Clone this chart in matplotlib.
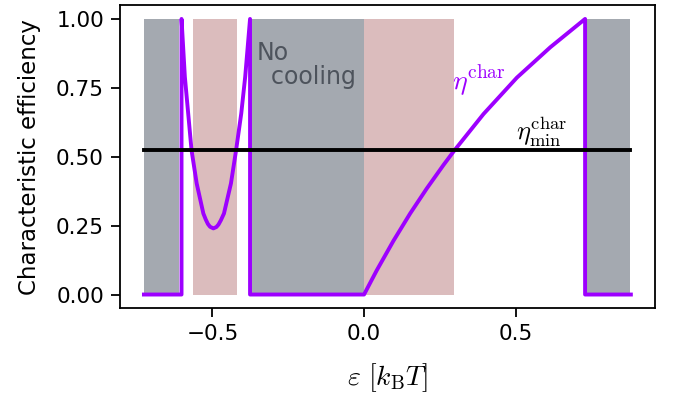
import matplotlib
matplotlib.use('Agg')
import matplotlib.pyplot as plt

plt.rcParams['mathtext.fontset'] = 'cm'
plt.rcParams['font.family'] = 'DejaVu Sans'

# characteristic efficiency
eps = [-0.726, -0.602, -0.602, -0.591, -0.580, -0.569, -0.552, -0.530, -0.522,
       -0.515, -0.508, -0.497, -0.487, -0.480, -0.472, -0.462, -0.439, -0.422,
       -0.405, -0.392, -0.376, -0.376,
       0.0, 0.042, 0.097, 0.152, 0.207, 0.262, 0.298, 0.394, 0.504, 0.614,
       0.729, 0.729, 0.88]
eta = [0.0, 0.0, 1.0, 0.790, 0.657, 0.524, 0.403, 0.294, 0.272,
       0.256, 0.246, 0.240, 0.245, 0.254, 0.270, 0.294, 0.403, 0.524,
       0.657, 0.790, 1.0, 0.0,
       0.0, 0.088, 0.195, 0.294, 0.385, 0.470, 0.523, 0.655, 0.787, 0.897,
       1.0, 0.0, 0.0]

eta_min = 0.523

# regions: no cooling (gray) and eta below eta_min (pink)
no_cooling = [(-0.726, -0.61), (-0.371, 0.0), (0.733, 0.878)]
below_min = [(-0.565, -0.418), (0.0, 0.298)]

fig = plt.figure(figsize=(6.74, 3.97), dpi=100)
ax = fig.add_axes([0.178, 0.2234, 0.794, 0.7636])

for a, b in no_cooling:
    ax.fill_between([a, b], 0, 1, color='#a4a9b0', lw=0)
for a, b in below_min:
    ax.fill_between([a, b], 0, 1, color='#dbbcbd', lw=0)

ax.plot(eps, eta, color='#9d00ff', lw=2.8)
ax.plot([eps[0], 0.878], [eta_min, eta_min], color='black', lw=2.8)

ax.text(-0.355, 0.92, 'No\n  cooling', fontsize=17, color='#4d535c',
        va='top', ha='left', linespacing=1.0)
ax.text(0.29, 0.74, r'$\eta^\mathrm{char}$', fontsize=20, color='#9d00ff')
ax.text(0.50, 0.56, r'$\eta^\mathrm{char}_\mathrm{min}$', fontsize=19, color='black')

ax.set_xlim(-0.805, 0.96)
ax.set_ylim(-0.05, 1.05)
ax.set_xticks([-0.5, 0.0, 0.5])
ax.set_yticks([0.0, 0.25, 0.5, 0.75, 1.0])
ax.tick_params(labelsize=15.5, width=1.3, length=6.5, pad=5)
for s in ax.spines.values():
    s.set_linewidth(1.3)

ax.set_xlabel(r'$\varepsilon\ [k_\mathrm{B}T]$', fontsize=20, labelpad=12)
ax.set_ylabel('Characteristic efficiency', fontsize=16.5, labelpad=11)

fig.savefig('out.png', dpi=100)
